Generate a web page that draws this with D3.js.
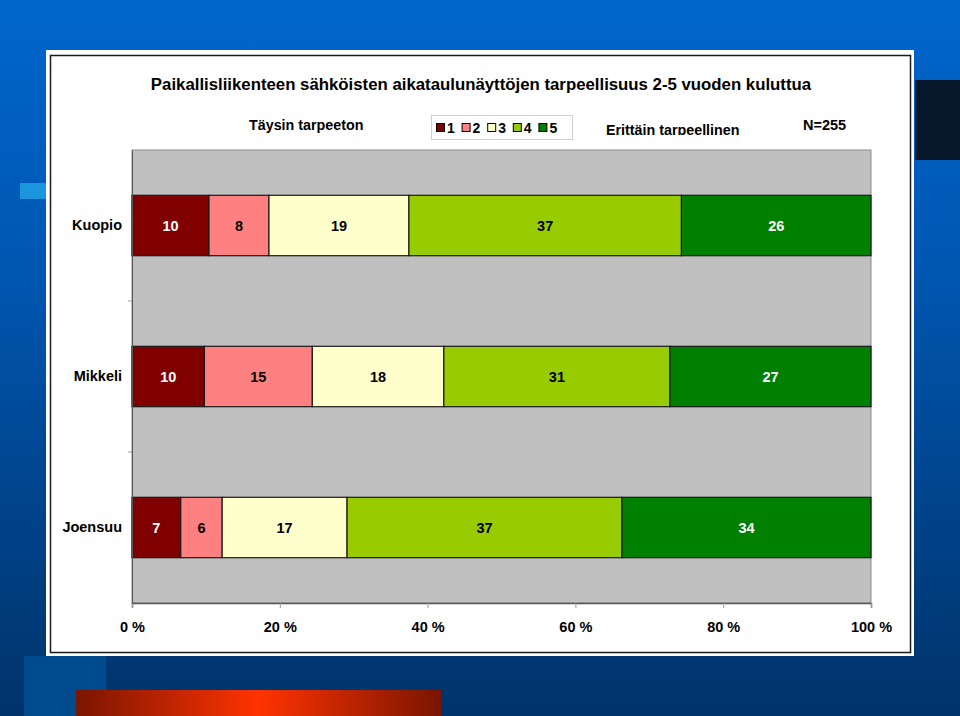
<!DOCTYPE html>
<html>
<head>
<meta charset="utf-8">
<script src="https://cdn.jsdelivr.net/npm/d3@7"></script>
<style>
  html, body { margin: 0; padding: 0; background: #003366; }
  svg { display: block; }
  text { font-family: "Liberation Sans", Arial, sans-serif; font-weight: bold; }
</style>
</head>
<body>
<svg id="chart" width="960" height="716"></svg>
<script>
// ---- data (percent shares; labels shown rounded) ----
const categories = ["Kuopio", "Mikkeli", "Joensuu"];
const seriesKeys = ["1", "2", "3", "4", "5"];
const values1 = [10.4, 9.8, 6.6];
const values2 = [8.1, 14.6, 5.6];
const values3 = [18.9, 17.8, 16.9];
const values4 = [36.8, 30.6, 37.2];
const values5 = [25.6, 27.2, 33.7];
const seriesColors = ["#800000", "#FF8080", "#FFFFCC", "#99CC00", "#008000"];
const labelColors = ["#ffffff", "#000000", "#000000", "#000000", "#ffffff"];
const xTicks = [0, 0.2, 0.4, 0.6, 0.8, 1.0];
const xTickLabels = ["0 %", "20 %", "40 %", "60 %", "80 %", "100 %"];
const title = "Paikallisliikenteen sähköisten aikataulunäyttöjen tarpeellisuus 2-5 vuoden kuluttua";
const leftLabel = "Täysin tarpeeton";
const rightLabel = "Erittäin tarpeellinen";
const nLabel = "N=255";

const allValues = [values1, values2, values3, values4, values5];
const table = categories.map((c, i) => {
  const row = { category: c };
  seriesKeys.forEach((k, j) => row[k] = allValues[j][i]);
  return row;
});
const fmt = d3.format(".0f");

const svg = d3.select("#chart");
const defs = svg.append("defs");

// ---- slide background ----
const bg = defs.append("linearGradient").attr("id", "bgGrad").attr("x1", 0).attr("y1", 0).attr("x2", 0).attr("y2", 1);
bg.append("stop").attr("offset", "0%").attr("stop-color", "#0066cc");
bg.append("stop").attr("offset", "35%").attr("stop-color", "#0058b4");
bg.append("stop").attr("offset", "100%").attr("stop-color", "#00336a");
svg.append("rect").attr("width", 960).attr("height", 716).attr("fill", "url(#bgGrad)");

svg.append("rect").attr("x", 915).attr("y", 80).attr("width", 45).attr("height", 80).attr("fill", "#06162b");
svg.append("rect").attr("x", 20).attr("y", 183).attr("width", 26).attr("height", 16).attr("fill", "#1b96dd");
svg.append("rect").attr("x", 24).attr("y", 656).attr("width", 82).attr("height", 60).attr("fill", "#004a8e");

const red = defs.append("linearGradient").attr("id", "redGrad").attr("x1", 0).attr("y1", 0).attr("x2", 1).attr("y2", 0);
red.append("stop").attr("offset", "0%").attr("stop-color", "#7a1500");
red.append("stop").attr("offset", "50%").attr("stop-color", "#ff3300");
red.append("stop").attr("offset", "100%").attr("stop-color", "#7a1500");
svg.append("rect").attr("x", 76).attr("y", 690).attr("width", 365).attr("height", 26).attr("fill", "url(#redGrad)");

// ---- chart frame ----
svg.append("rect").attr("x", 46).attr("y", 50).attr("width", 868).attr("height", 606).attr("fill", "#ffffff");
svg.append("rect").attr("x", 50.5).attr("y", 55.5).attr("width", 860).attr("height", 597)
  .attr("fill", "none").attr("stroke", "#1a1a1a").attr("stroke-width", 1.5);

// ---- title & header texts ----
svg.append("text").attr("x", 481).attr("y", 90).attr("text-anchor", "middle")
  .attr("font-size", 16.8).attr("fill", "#000").text(title);

svg.append("text").attr("x", 249).attr("y", 130).attr("font-size", 14.3).attr("fill", "#000").text(leftLabel);

defs.append("clipPath").attr("id", "rightClip").append("rect")
  .attr("x", 590).attr("y", 100).attr("width", 200).attr("height", 35);
svg.append("text").attr("x", 606).attr("y", 135).attr("font-size", 14.3).attr("fill", "#000")
  .attr("clip-path", "url(#rightClip)").text(rightLabel);

svg.append("text").attr("x", 803).attr("y", 130).attr("font-size", 14.5).attr("fill", "#000").text(nLabel);

// legend
const legend = svg.append("g");
legend.append("rect").attr("x", 431.5).attr("y", 115.5).attr("width", 141).attr("height", 24)
  .attr("fill", "#fff").attr("stroke", "#d0d0d0");
const legendX = d3.scaleBand().domain(seriesKeys).range([435, 563]);
const li = legend.selectAll("g.item").data(seriesKeys).enter().append("g").attr("class", "item")
  .attr("transform", d => `translate(${legendX(d)},0)`);
li.append("rect").attr("x", 1.5).attr("y", 123.5).attr("width", 8).attr("height", 8)
  .attr("fill", (d, i) => seriesColors[i]).attr("stroke", "#000");
li.append("text").attr("x", 12).attr("y", 133).attr("font-size", 14).attr("fill", "#000").text(d => d);

// ---- plot ----
const plot = { left: 132, right: 871, top: 150, bottom: 603 };
svg.append("rect").attr("x", plot.left).attr("y", plot.top)
  .attr("width", plot.right - plot.left).attr("height", plot.bottom - plot.top)
  .attr("fill", "#c0c0c0").attr("stroke", "#8c8c8c").attr("stroke-width", 1);

const x = d3.scaleLinear().domain([0, 1]).range([plot.left, plot.right]);
const y = d3.scaleBand().domain(categories).range([plot.top, plot.bottom]).paddingInner(0.6).paddingOuter(0.3);

const stack = d3.stack().keys(seriesKeys).offset(d3.stackOffsetExpand);
const stacked = stack(table);

const groups = svg.selectAll("g.series").data(stacked).enter().append("g").attr("class", "series");
groups.selectAll("rect").data(d => d).enter().append("rect")
  .attr("x", d => x(d[0]))
  .attr("y", d => y(d.data.category))
  .attr("width", d => x(d[1]) - x(d[0]))
  .attr("height", y.bandwidth())
  .attr("fill", function() { return seriesColors[d3.select(this.parentNode).datum().index]; })
  .attr("stroke", "#1a1a1a").attr("stroke-width", 1.2);

groups.each(function(s, si) {
  d3.select(this).selectAll("text").data(s).enter().append("text")
    .attr("x", d => (x(d[0]) + x(d[1])) / 2)
    .attr("y", d => y(d.data.category) + y.bandwidth() / 2 + 5)
    .attr("text-anchor", "middle").attr("font-size", 14.5)
    .attr("fill", labelColors[si])
    .text(d => fmt(d.data[s.key]));
});

// x axis
const xAxis = d3.axisBottom(x).tickValues(xTicks).tickFormat((d, i) => xTickLabels[i]).tickSize(5).tickPadding(14);
const gx = svg.append("g").attr("transform", `translate(0,${plot.bottom})`).call(xAxis);
gx.select(".domain").attr("stroke", "#555").attr("stroke-width", 1.5);
gx.selectAll(".tick line").attr("stroke", "#999");
gx.selectAll(".tick text").attr("font-size", 14.5).attr("font-family", "'Liberation Sans', Arial, sans-serif")
  .attr("font-weight", "bold").attr("fill", "#000");

// y axis
const yAxis = d3.axisLeft(y).tickSize(0).tickPadding(10);
const gy = svg.append("g").attr("transform", `translate(${plot.left},0)`).call(yAxis);
gy.select(".domain").attr("stroke", "#555").attr("stroke-width", 1);
gy.selectAll(".tick text").attr("font-size", 14.5).attr("font-family", "'Liberation Sans', Arial, sans-serif")
  .attr("font-weight", "bold").attr("fill", "#000");
// category separator ticks
const sepY = categories.slice(1).map(c => y(c) - y.step() * y.paddingInner() / 2);
svg.selectAll("line.sep").data(sepY).enter().append("line")
  .attr("x1", plot.left - 4).attr("x2", plot.left).attr("y1", d => d).attr("y2", d => d)
  .attr("stroke", "#999");
</script>
</body>
</html>
